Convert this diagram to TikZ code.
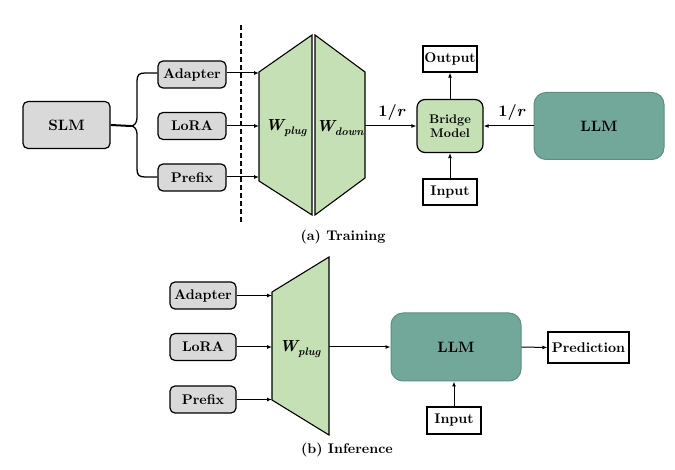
\documentclass[tikz,border=0pt]{standalone}
\usepackage{fontspec}
\IfFontExistsTF{lmroman10-bold.otf}{%
  \newfontfamily\tnr{lmroman10-bold.otf}[BoldFont=lmroman10-bold.otf, ItalicFont=lmroman10-bolditalic.otf, BoldItalicFont=lmroman10-bolditalic.otf]%
}{%
  \newfontfamily\tnr{Latin Modern Roman}%
}
\usetikzlibrary{arrows.meta}
\definecolor{boxgray}{HTML}{D9D9D9}
\definecolor{plugreen}{HTML}{C5E0B4}
\definecolor{llmteal}{HTML}{72A89A}
\definecolor{llmedge}{HTML}{5B8F82}
\newcommand{\wsym}[1]{{\tnr\bfseries\itshape W}\raisebox{-3.5pt}{\fontsize{11}{12}\selectfont\tnr\bfseries\itshape #1}}
\tikzset{
  txt/.style={font=\fontsize{14}{16}\selectfont\tnr\bfseries},
  bigtxt/.style={font=\fontsize{15}{17}\selectfont\tnr\bfseries},
  graybox/.style={txt, draw=black, line width=1.2pt, fill=boxgray, rounded corners=5pt, inner sep=0pt},
  whitebox/.style={txt, draw=black, line width=1.2pt, fill=white, inner sep=0pt},
  llmbox/.style={bigtxt, draw=llmedge, line width=1pt, fill=llmteal, rounded corners=12pt, inner sep=0pt},
  bridgebox/.style={draw=black, line width=1.2pt, fill=plugreen, rounded corners=8pt, inner sep=0pt, align=center, font=\fontsize{12.5}{14.5}\selectfont\tnr\bfseries},
  trap/.style={draw=black, line width=1.1pt, fill=plugreen},
  conn/.style={line width=1pt, -{Latex[length=5pt,width=4pt]}},
  wlabel/.style={font=\fontsize{16}{18}\selectfont\tnr\bfseries},
  captext/.style={font=\fontsize{14}{16}\selectfont\tnr\bfseries}
}
\begin{document}
\begin{tikzpicture}[x=1pt,y=-1pt]
\useasboundingbox (0,0) rectangle (675,470);
% ---------- (a) Training ----------
\draw[line width=1.2pt, dash pattern=on 5pt off 3pt] (241,25) -- (241,222);
\node[graybox, bigtxt, minimum width=87pt, minimum height=47pt] (slm) at (66.5,125) {SLM};
\node[graybox, minimum width=68pt, minimum height=27pt] (ta) at (192,74.5) {Adapter};
\node[graybox, minimum width=68pt, minimum height=27pt] (tl) at (192,126) {LoRA};
\node[graybox, minimum width=68pt, minimum height=27pt] (tp) at (192,177.5) {Prefix};
% brace
\coordinate (tip) at (131,126);
\draw[line width=2pt] (slm.east) -- (tip);
\draw[line width=1.3pt] (ta.west |- 0,73) -- (145,73) .. controls (139,73) and (137,75) .. (137,81)
   -- (137,118) .. controls (137,123) and (134,126) .. (tip)
   .. controls (134,126) and (137,129) .. (137,134) -- (137,169)
   .. controls (137,175) and (139,177) .. (145,177) -- (tp.west |- 0,177);
% trapezoids
\draw[trap] (259,72) -- (312,35) -- (312,215) -- (259,181) -- cycle;
\draw[trap] (315,35) -- (365,72) -- (365,178) -- (315,215) -- cycle;
\node[wlabel] (wplug) at (286,128) {\wsym{plug}};
\node[wlabel] (wdown) at (340,128) {\wsym{down}};
\coordinate (pa) at (259,73);
\coordinate (pl) at (259,126);
\coordinate (pp) at (259,177);
\coordinate (dr) at (365,126);
\draw[conn] (ta.east |- pa) -- (pa);
\draw[conn] (tl.east) -- (pl);
\draw[conn] (tp.east |- pp) -- (pp);
\node[bridgebox, minimum width=66pt, minimum height=53pt] (bridge) at (450,126) {Bridge\\Model};
\node[whitebox, minimum width=54pt, minimum height=26pt] (out) at (450,59) {Output};
\node[whitebox, minimum width=54pt, minimum height=26pt] (tin) at (450,192) {Input};
\node[llmbox, minimum width=130pt, minimum height=67pt] (tllm) at (599,126) {LLM};
\draw[conn] (dr) -- (bridge.west);
\draw[conn] (tllm.west) -- (bridge.east);
\draw[conn] (bridge.north) -- (out.south);
\draw[conn] (tin.north) -- (bridge.south);
\node[wlabel] (r1) at (392,113) {1/\textit{r}};
\node[wlabel] (r2) at (512,113) {1/\textit{r}};
\node[captext] (capa) at (343,237) {(a) Training};
% ---------- (b) Inference ----------
\node[graybox, minimum width=66pt, minimum height=27pt] (ia) at (203,295.5) {Adapter};
\node[graybox, minimum width=66pt, minimum height=27pt] (il) at (203,347) {LoRA};
\node[graybox, minimum width=66pt, minimum height=27pt] (ip) at (203,399.5) {Prefix};
\draw[trap] (272,292) -- (329,257) -- (329,435) -- (272,400) -- cycle;
\node[wlabel] (iwplug) at (300,349) {\wsym{plug}};
\coordinate (qa) at (272,295.5);
\coordinate (ql) at (272,347);
\coordinate (qp) at (272,399.5);
\coordinate (qr) at (329,347);
\draw[conn] (ia.east) -- (qa);
\draw[conn] (il.east) -- (ql);
\draw[conn] (ip.east) -- (qp);
\node[llmbox, minimum width=130pt, minimum height=68pt] (illm) at (456,347) {LLM};
\node[whitebox, minimum width=81pt, minimum height=31pt] (pred) at (588.5,347.5) {Prediction};
\node[whitebox, minimum width=54pt, minimum height=27pt] (iin) at (454,420.5) {Input};
\draw[conn] (qr) -- (illm.west);
\draw[conn] (illm.east) -- (pred.west);
\draw[conn] (iin.north) -- (illm.south -| iin.north);
\node[captext] (capb) at (347,450) {(b) Inference};
\end{tikzpicture}
\end{document}
